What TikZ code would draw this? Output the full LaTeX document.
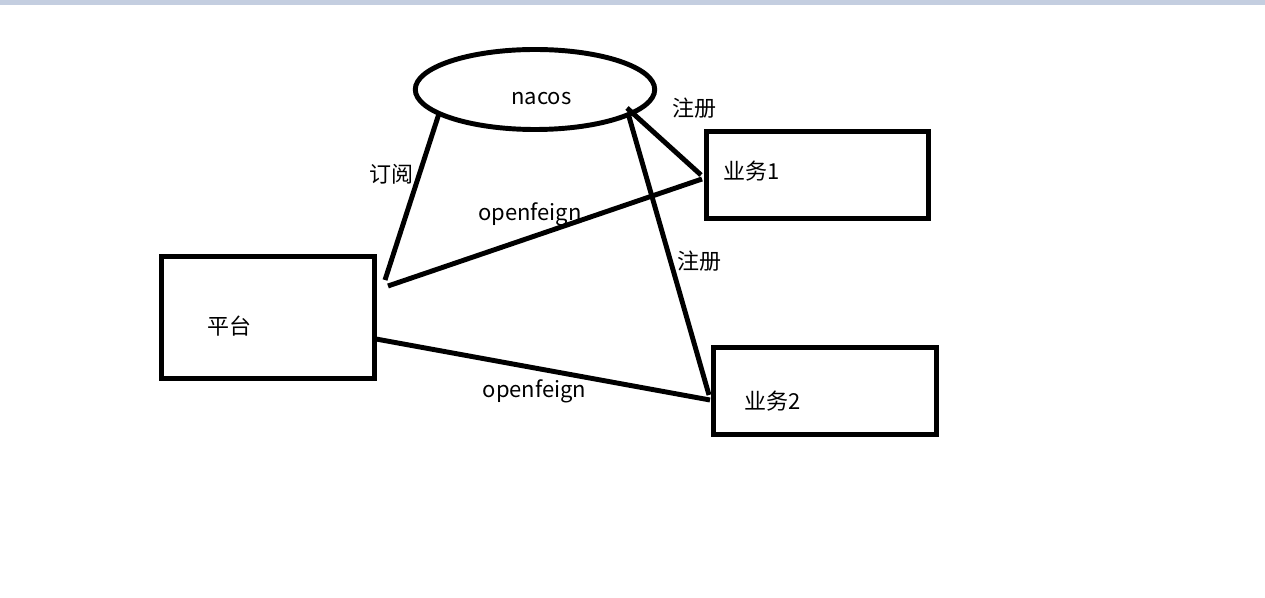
\documentclass[tikz,border=0pt]{standalone}
\usepackage{fontspec}
\setmainfont{Noto Sans CJK SC}
\usetikzlibrary{shapes.geometric}
\definecolor{barblue}{RGB}{196,206,224}
\begin{document}
\begin{tikzpicture}[x=0.75pt, y=-0.75pt,
    font=\fontsize{16.5pt}{19pt}\selectfont,
    box/.style={draw, line width=3.7pt, inner sep=0pt, outer sep=0pt},
    link/.style={line width=3.7pt},
    lbl/.style={inner sep=0pt}]
  \useasboundingbox (0,0) rectangle (1265,598);
  \fill[barblue] (0,0) rectangle (1265,5);
  % the boxes
  \node[box, ellipse, minimum width=179.6pt, minimum height=60pt] (nacos) at (535,89.5) {};
  \node[box, minimum width=159.8pt, minimum height=91.5pt] (pingtai) at (268,317.5) {};
  \node[box, minimum width=166.5pt, minimum height=65.3pt] (yewu1) at (817.5,175) {};
  \node[box, minimum width=166.9pt, minimum height=65.3pt] (yewu2) at (824.8,391) {};
  \node[lbl] (nacos-txt) at (541.5,98.5) {nacos};
  \node[lbl] (pingtai-txt) at (229,326) {平台};
  \node[lbl] (yewu1-txt) at (752,171) {业务1};
  \node[lbl] (yewu2-txt) at (773,401) {业务2};
  % free ends of the lines
  \coordinate (sub-end) at (385,280);
  \coordinate (of1-start) at (388,286);
  \coordinate (of1-end) at (702,179);
  \coordinate (reg1-start) at (627,108);
  \coordinate (reg1-end) at (701,175);
  \coordinate (reg2-end) at (709,395);
  \coordinate (of2-start) at (376,339);
  \coordinate (of2-end) at (710,400);
  \draw[link] (nacos.194.7) -- (sub-end);
  \draw[link] (of1-start) -- (of1-end);
  \draw[link] (reg1-start) -- (reg1-end);
  \draw[link] (nacos.-15.5) -- (reg2-end);
  \draw[link] (of2-start) -- (of2-end);
  % labels
  \node[lbl] (sub-lbl) at (391,174) {订阅};
  \node[lbl] (reg1-lbl) at (694,108) {注册};
  \node[lbl] (reg2-lbl) at (699,261) {注册};
  \node[lbl, anchor=base] (of1-lbl) at (530,221) {openfeign};
  \node[lbl, anchor=base] (of2-lbl) at (534.5,398) {openfeign};
\end{tikzpicture}
\end{document}
